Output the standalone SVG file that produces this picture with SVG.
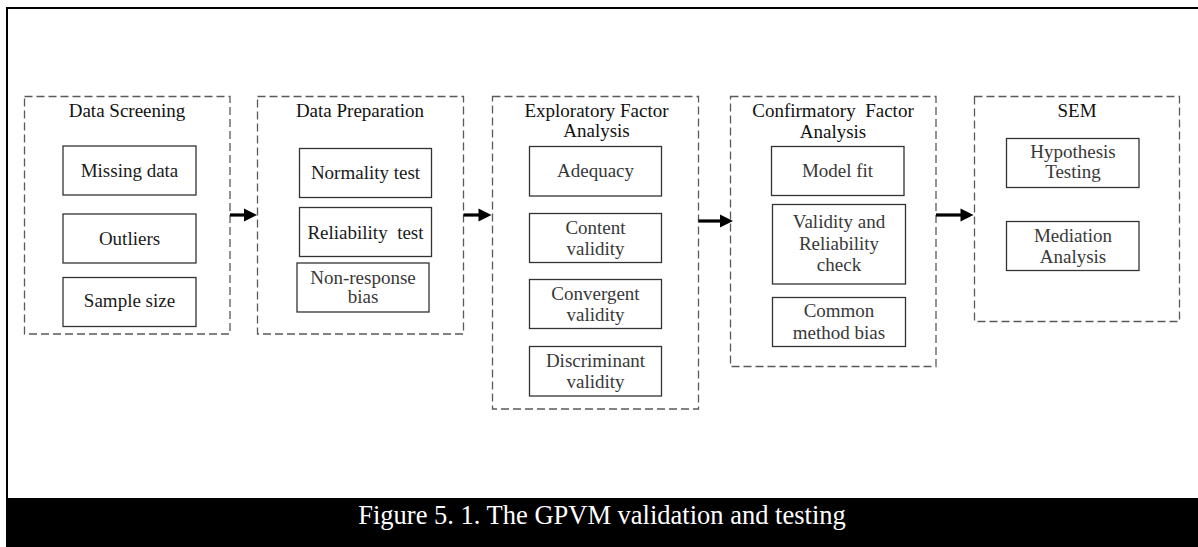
<svg xmlns="http://www.w3.org/2000/svg" width="1198" height="547" viewBox="0 0 1198 547">
  <style>
    text { font-family: "Liberation Serif", "Times New Roman", serif; font-size: 19px; text-anchor: middle; }
    .title { fill: #111; }
    .item { fill: #1a1a1a; }
    .soft { fill: #383838; }
    .stage { fill: none; stroke: #5a5a5a; stroke-width: 1.3; stroke-dasharray: 8 4; }
    .box { fill: #fff; stroke: #333; stroke-width: 1.3; }
    .shaft { stroke: #000; stroke-width: 3.2; fill: none; }
    .head { fill: #000; }
    .caption { fill: #fff; font-size: 26.5px; }
  </style>

  <rect width="1198" height="547" fill="#fff"/>
  <!-- frame -->
  <path d="M7,498 V8 H1198" fill="none" stroke="#000" stroke-width="2"/>

  <!-- Stage 1 -->
  <g id="data-screening">
    <rect class="stage" x="24.5" y="96.5" width="205.5" height="237.5"/>
    <text class="title" x="127" y="117">Data Screening</text>
    <g id="missing-data">
      <rect class="box" x="63" y="146" width="133" height="49"/>
      <text class="item" x="129.5" y="177">Missing data</text>
    </g>
    <g id="outliers">
      <rect class="box" x="63" y="214" width="133" height="49"/>
      <text class="item" x="129.5" y="245">Outliers</text>
    </g>
    <g id="sample-size">
      <rect class="box" x="63" y="277.5" width="133" height="49"/>
      <text class="item" x="129.5" y="307">Sample size</text>
    </g>
  </g>

  <!-- Stage 2 -->
  <g id="data-preparation">
    <rect class="stage" x="257.5" y="96.5" width="206" height="237.5"/>
    <text class="title" x="360" y="117">Data Preparation</text>
    <g id="normality-test">
      <rect class="box" x="299.5" y="148.5" width="132" height="49"/>
      <text class="item" x="365.5" y="179">Normality test</text>
    </g>
    <g id="reliability-test">
      <rect class="box" x="299.5" y="207.5" width="132" height="49"/>
      <text class="item" x="365.5" y="238.5" xml:space="preserve">Reliability  test</text>
    </g>
    <g id="non-response-bias">
      <rect class="box" x="297" y="263" width="132" height="49"/>
      <text class="soft" x="363" y="283.5">Non-response</text>
      <text class="soft" x="363" y="303">bias</text>
    </g>
  </g>

  <!-- Stage 3 -->
  <g id="efa">
    <rect class="stage" x="492.5" y="96.5" width="206" height="312.5"/>
    <text class="title" x="596.5" y="117">Exploratory Factor</text>
    <text class="title" x="596.5" y="137">Analysis</text>
    <g id="adequacy">
      <rect class="box" x="529.5" y="146.5" width="132" height="49.5"/>
      <text class="soft" x="595.5" y="177">Adequacy</text>
    </g>
    <g id="content-validity">
      <rect class="box" x="529.5" y="213.5" width="132" height="49"/>
      <text class="soft" x="595.5" y="234">Content</text>
      <text class="soft" x="595.5" y="255">validity</text>
    </g>
    <g id="convergent-validity">
      <rect class="box" x="529.5" y="279.5" width="132" height="49"/>
      <text class="soft" x="595.5" y="300">Convergent</text>
      <text class="soft" x="595.5" y="321">validity</text>
    </g>
    <g id="discriminant-validity">
      <rect class="box" x="529.5" y="346.5" width="132" height="49.5"/>
      <text class="soft" x="595.5" y="367">Discriminant</text>
      <text class="soft" x="595.5" y="388">validity</text>
    </g>
  </g>

  <!-- Stage 4 -->
  <g id="cfa">
    <rect class="stage" x="730.5" y="96.5" width="205.5" height="270"/>
    <text class="title" x="833" y="117" xml:space="preserve">Confirmatory  Factor</text>
    <text class="title" x="833" y="138">Analysis</text>
    <g id="model-fit">
      <rect class="box" x="771.5" y="146.5" width="132.5" height="49"/>
      <text class="soft" x="837.5" y="177">Model fit</text>
    </g>
    <g id="validity-reliability">
      <rect class="box" x="772.5" y="204.5" width="133" height="79.5"/>
      <text class="soft" x="839" y="228">Validity and</text>
      <text class="soft" x="839" y="249.5">Reliability</text>
      <text class="soft" x="839" y="271">check</text>
    </g>
    <g id="common-method-bias">
      <rect class="box" x="772.5" y="297.5" width="133" height="49"/>
      <text class="soft" x="839" y="317">Common</text>
      <text class="soft" x="839" y="338.5">method bias</text>
    </g>
  </g>

  <!-- Stage 5 -->
  <g id="sem">
    <rect class="stage" x="974.5" y="96.5" width="205" height="225"/>
    <text class="title" x="1077" y="117">SEM</text>
    <g id="hypothesis-testing">
      <rect class="box" x="1006.5" y="138.5" width="132.5" height="49"/>
      <text class="soft" x="1073" y="158">Hypothesis</text>
      <text class="soft" x="1073" y="178">Testing</text>
    </g>
    <g id="mediation-analysis">
      <rect class="box" x="1006.5" y="221.5" width="132.5" height="49"/>
      <text class="soft" x="1073" y="242">Mediation</text>
      <text class="soft" x="1073" y="263">Analysis</text>
    </g>
  </g>

  <!-- connectors between stages -->
  <g id="connectors">
    <line class="shaft" x1="230" y1="215" x2="245" y2="215"/>
    <polygon class="head" points="244,208.5 257,215 244,221.5"/>
    <line class="shaft" x1="463.5" y1="215" x2="479" y2="215"/>
    <polygon class="head" points="478.5,208.5 491.5,215 478.5,221.5"/>
    <line class="shaft" x1="698.5" y1="221" x2="721" y2="221"/>
    <polygon class="head" points="720,214.5 733,221 720,227.5"/>
    <line class="shaft" x1="936" y1="215" x2="961" y2="215"/>
    <polygon class="head" points="960.5,208.5 973.5,215 960.5,221.5"/>
  </g>

  <!-- caption bar -->
  <rect x="6" y="498" width="1192" height="49" fill="#000"/>
  <text class="caption" x="602" y="524">Figure 5. 1. The GPVM validation and testing</text>
</svg>
